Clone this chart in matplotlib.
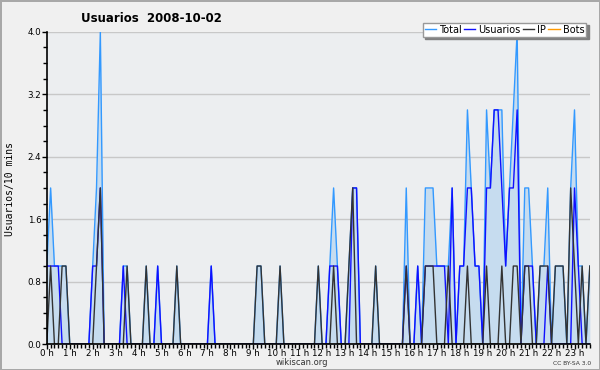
import numpy as np
import matplotlib
matplotlib.use("Agg")
import matplotlib.pyplot as plt
from matplotlib.ticker import MultipleLocator

# -------------------------------------------------------------
# usuarios activos cada 10 minutos, 2008-10-02 (6 valores por hora,
# la ultima hora solo tiene 5)

hours = ["%d h" % h for h in range(24)]

total = [1,2,1,1,1,1,  0,0,0,0,0,0,  1,2,4,0,0,0,  0,0,1,1,0,0,
         0,0,1,0,0,1,  0,0,0,0,1,0,  0,0,0,0,0,0,  0,1,0,0,0,0,
         0,0,0,0,0,0,  0,1,1,0,0,0,  0,1,0,0,0,0,  0,0,0,0,0,1,
         0,0,1,2,1,0,  0,1,2,2,0,0,  0,0,1,0,0,0,  0,0,0,0,2,0,
         0,1,0,2,2,2,  1,1,1,1,2,0,  1,1,3,2,1,1,  0,3,2,3,3,3,
         1,2,3,4,0,2,  2,1,0,1,1,2,  0,1,1,1,0,2,  3,1,1,0,1]

usuarios = [1,1,1,1,0,0,  0,0,0,0,0,0,  1,1,2,0,0,0,  0,0,1,0,0,0,
            0,0,0,0,0,1,  0,0,0,0,0,0,  0,0,0,0,0,0,  0,1,0,0,0,0,
            0,0,0,0,0,0,  0,0,0,0,0,0,  0,0,0,0,0,0,  0,0,0,0,0,0,
            0,0,1,1,1,0,  0,0,2,2,0,0,  0,0,0,0,0,0,  0,0,0,0,1,0,
            0,1,0,1,1,1,  1,1,1,0,2,0,  1,1,2,2,1,1,  0,2,2,3,3,2,
            1,2,2,3,0,1,  1,1,0,0,0,1,  0,0,0,0,0,0,  2,1,0,0,0]

ip = [0,1,0,0,1,1,  0,0,0,0,0,0,  0,1,2,0,0,0,  0,0,0,1,0,0,
      0,0,1,0,0,0,  0,0,0,0,1,0,  0,0,0,0,0,0,  0,0,0,0,0,0,
      0,0,0,0,0,0,  0,1,1,0,0,0,  0,1,0,0,0,0,  0,0,0,0,0,1,
      0,0,0,1,0,0,  0,1,2,0,0,0,  0,0,1,0,0,0,  0,0,0,0,1,0,
      0,0,0,1,1,1,  0,0,0,1,0,0,  0,0,1,0,0,0,  0,1,0,0,0,1,
      0,0,1,1,0,1,  1,0,0,1,1,1,  0,1,1,1,0,2,  1,0,1,0,1]

bots = [0,0,0,0,0,0,  0,0,0,0,0,0,  0,0,0,0,0,0,  0,0,0,0,0,0,
        0,0,0,0,0,0,  0,0,0,0,0,0,  0,0,0,0,0,0,  0,0,0,0,0,0,
        0,0,0,0,0,0,  0,0,0,0,0,0,  0,0,0,0,0,0,  0,0,0,0,0,0,
        0,0,0,0,0,0,  0,0,0,0,0,0,  0,0,0,0,0,0,  0,0,0,0,0,0,
        0,0,0,0,0,0,  0,0,0,0,0,0,  0,0,0,0,0,0,  0,0,0,0,0,0,
        0,0,0,0,0,0,  0,0,0,0,0,0,  0,0,0,0,0,0,  0,0,0,0,0]

# -------------------------------------------------------------

fig = plt.figure(figsize=(6, 3.7), dpi=100)
fig.patch.set_facecolor("#f0f0f0")
fig.patch.set_edgecolor("#a8a8a8")
fig.patch.set_linewidth(2)

ax = fig.add_axes([0.078, 0.070, 0.905, 0.844])
ax.set_facecolor("#eceef0")

X = np.arange(len(total))

ax.fill_between(X, total, 0, color="#c6dcef", lw=0, zorder=1)
ax.plot(X, bots, color="#ff9900", lw=1, zorder=1.5, label="Bots")
ax.plot(X, total, color="#3399ff", lw=1, zorder=2, label="Total")
ax.plot(X, usuarios, color="#1010ff", lw=1, zorder=3, label="Usuarios")
ax.plot(X, ip, color="#333333", lw=1, zorder=4, label="IP")

# -------------------------------------------------------------

ax.set_xlim(0, len(total) - 1)
ax.set_ylim(0, 4.0)

ax.set_xticks(np.arange(0, len(total), 6))
ax.set_xticklabels(hours)
ax.xaxis.set_minor_locator(MultipleLocator(1))
ax.set_yticks(np.arange(0, 4.01, 0.8))
ax.set_yticklabels(["%.1f" % v for v in np.arange(0, 4.01, 0.8)])
ax.yaxis.set_minor_locator(MultipleLocator(0.2))

ax.tick_params(which="both", direction="out", width=1, colors="black",
               labelsize=6.3, pad=0.5)
ax.tick_params(which="major", length=3.5)
ax.tick_params(which="minor", length=3)
ax.tick_params(axis="x", pad=0)

ax.grid(axis="y", color="#c8c8c8", lw=1)
ax.set_axisbelow(True)
for s in ["top", "right"]:
    ax.spines[s].set_visible(False)
for s in ["left", "bottom"]:
    ax.spines[s].set_linewidth(1.2)
    ax.spines[s].set_zorder(5)

# -------------------------------------------------------------

fig.text(0.253, 0.950, "Usuarios  2008-10-02", ha="center", va="center",
         fontsize=8.5, fontweight="bold")
fig.text(0.017, 0.488, "Usuarios/10 mins", rotation=90, ha="center",
         va="center", fontsize=7, family="DejaVu Sans Mono")
fig.text(0.503, 0.020, "wikiscan.org", ha="center", va="center", fontsize=6,
         color="#333333")
fig.text(0.985, 0.017, "CC BY-SA 3.0", ha="right", va="center", fontsize=4.3,
         color="#333333")

h, l = ax.get_legend_handles_labels()
order = [1, 2, 3, 0]
leg = fig.legend([h[i] for i in order], [l[i] for i in order], ncol=4,
                 loc="upper right", bbox_to_anchor=(0.985, 0.952),
                 fontsize=7, handlelength=1.2, handletextpad=0.3,
                 columnspacing=0.2, borderpad=0.2, fancybox=False,
                 shadow={"color": "#808080", "alpha": 1}, framealpha=1,
                 edgecolor="#999999")
leg.get_frame().set_linewidth(1)

fig.savefig("out.png", dpi=100, facecolor=fig.get_facecolor(),
            edgecolor=fig.get_edgecolor())
